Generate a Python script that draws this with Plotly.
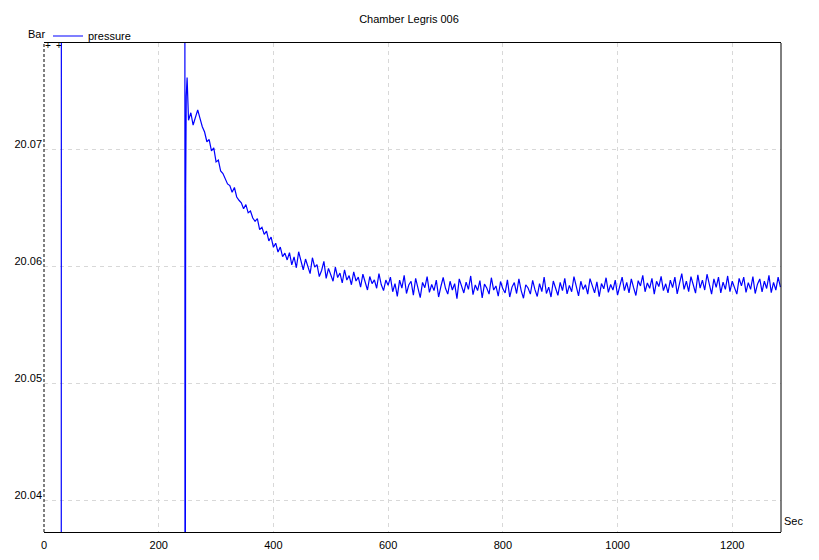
import plotly.graph_objects as go

# ---- data ----
# lead-in: line jumps from below range to above range at t=30, and back at t~246
lead_time = [0, 30, 30.3, 245.6, 245.9, 246.3, 247.0, 248.0, 249.5]
lead_pressure = [20.0, 20.0, 20.1, 20.1, 20.0, 20.0505, 20.0663, 20.0745, 20.0761]

sample_start = 252
sample_step = 4
pressure = [
    # decay 252 .. 420
    20.07245, 20.07310, 20.07205, 20.07268, 20.07335, 20.07262, 20.07190, 20.07145,
    20.07062, 20.07081, 20.06985, 20.07010, 20.06890, 20.06905, 20.06812, 20.06790,
    20.06745, 20.06702, 20.06688, 20.06630, 20.06671, 20.06590, 20.06562, 20.06540,
    20.06490, 20.06525, 20.06455, 20.06470, 20.06410, 20.06382, 20.06405, 20.06312,
    20.06330, 20.06270, 20.06298, 20.06215, 20.06248, 20.06160, 20.06195, 20.06120,
    20.06162, 20.06080, 20.06110,
    # 424 .. 600
    20.06052, 20.06115, 20.06010, 20.06078, 20.05985, 20.06122, 20.06030, 20.05968,
    20.06060, 20.06005, 20.05935, 20.06071, 20.05990, 20.06012, 20.05910, 20.05962,
    20.06040, 20.05895, 20.05980, 20.05925, 20.05870, 20.05990, 20.05902, 20.05940,
    20.05855, 20.05968, 20.05880, 20.05918, 20.05840, 20.05950, 20.05872, 20.05905,
    20.05820, 20.05930, 20.05868, 20.05795, 20.05910, 20.05850, 20.05882, 20.05810,
    20.05935, 20.05842, 20.05790, 20.05880, 20.05835,
    # 604 .. 1284
    20.05905, 20.05780, 20.05850, 20.05740, 20.05880, 20.05812, 20.05920, 20.05765,
    20.05838, 20.05870, 20.05752, 20.05895, 20.05800, 20.05730, 20.05860, 20.05815,
    20.05910, 20.05775, 20.05842, 20.05790, 20.05880, 20.05735, 20.05825, 20.05902,
    20.05810, 20.05760, 20.05870, 20.05795, 20.05850, 20.05722, 20.05890, 20.05818,
    20.05770, 20.05862, 20.05800, 20.05915, 20.05755, 20.05838, 20.05790, 20.05875,
    20.05728, 20.05845, 20.05812, 20.05760, 20.05900, 20.05795, 20.05830, 20.05742,
    20.05868, 20.05805, 20.05770, 20.05882, 20.05735, 20.05820, 20.05858, 20.05765,
    20.05890, 20.05790, 20.05725, 20.05840, 20.05812, 20.05760, 20.05878, 20.05798,
    20.05740, 20.05850, 20.05782, 20.05905, 20.05765, 20.05820, 20.05735, 20.05872,
    20.05808, 20.05750, 20.05860, 20.05790, 20.05895, 20.05762, 20.05835, 20.05780,
    20.05910, 20.05815, 20.05745, 20.05870, 20.05800, 20.05840, 20.05760, 20.05892,
    20.05822, 20.05770, 20.05865, 20.05738, 20.05850, 20.05805, 20.05900, 20.05775,
    20.05842, 20.05795, 20.05880, 20.05752, 20.05830, 20.05905, 20.05790, 20.05860,
    20.05770, 20.05890, 20.05815, 20.05748, 20.05875, 20.05830, 20.05920, 20.05780,
    20.05855, 20.05810, 20.05895, 20.05760, 20.05870, 20.05825, 20.05912, 20.05790,
    20.05848, 20.05770, 20.05880, 20.05815, 20.05905, 20.05762, 20.05850, 20.05935,
    20.05800, 20.05870, 20.05782, 20.05910, 20.05840, 20.05768, 20.05925, 20.05812,
    20.05880, 20.05795, 20.05930, 20.05835, 20.05760, 20.05890, 20.05818, 20.05905,
    20.05770, 20.05862, 20.05800, 20.05915, 20.05782, 20.05870, 20.05820, 20.05760,
    20.05895, 20.05830, 20.05905, 20.05775, 20.05858, 20.05800, 20.05910, 20.05765,
    20.05845, 20.05890, 20.05780, 20.05870, 20.05808, 20.05920, 20.05772, 20.05860,
    20.05795, 20.05905, 20.05820,
]
sample_time = [sample_start + sample_step * i for i in range(len(pressure))]

x_ticks = [0, 200, 400, 600, 800, 1000, 1200]
y_ticks = [20.04, 20.05, 20.06, 20.07]
x_range = [0, 1285]
y_range = [20.03727, 20.07906]

title_text = "Chamber Legris 006"
series_name = "pressure"
y_unit = "Bar"
x_unit = "Sec"

# ---- figure ----
# The page body has an 8px margin, so the figure is 8px smaller and all
# positions are measured from (8, 8) of the window.
W, H = 811, 552
FONT = "Liberation Sans"
fig = go.Figure()
fig.add_trace(go.Scatter(
    x=lead_time + sample_time,
    y=lead_pressure + pressure,
    mode="lines",
    name=series_name,
    line=dict(color="#0000FF", width=1.2),
    showlegend=True,
))

grid = dict(showgrid=True, gridcolor="#d8d8d8", gridwidth=1, griddash="4px,4px",
            zeroline=False, tickfont=dict(family=FONT, size=11, color="black"))

fig.update_layout(
    width=W, height=H,
    margin=dict(l=36, r=38, t=35, b=28, autoexpand=False),
    paper_bgcolor="white", plot_bgcolor="white",
    font=dict(family=FONT, size=11, color="black"),
    title=dict(text=title_text, x=401 / W, xref="container", xanchor="center",
               y=1 - 11 / H, yref="container", yanchor="middle",
               font=dict(family=FONT, size=11, color="black")),
    xaxis=dict(range=x_range, tickvals=x_ticks, ticktext=[str(v) for v in x_ticks],
               showline=True, linecolor="black", linewidth=1, mirror=True,
               ticks="", ticklabelstandoff=3, automargin=False, **grid),
    yaxis=dict(range=y_range, tickvals=y_ticks, ticktext=[f"{v:.2f}" for v in y_ticks],
               showline=False, ticks="", ticklabelshift=-5, ticklabelstandoff=1,
               automargin=False, **grid),
    legend=dict(orientation="h", x=40 / W, xref="container", xanchor="left",
                y=1 - 28 / H, yref="container", yanchor="middle",
                font=dict(family=FONT, size=11, color="black"),
                bgcolor="rgba(0,0,0,0)", borderwidth=0, itemwidth=30),
    showlegend=True,
    shapes=[
        dict(type="line", xref="paper", yref="paper", x0=0, x1=0, y0=0, y1=1,
             line=dict(color="black", width=1, dash="3px,2px")),
        dict(type="line", xref="paper", yref="paper", x0=1, x1=1, y0=0, y1=1,
             line=dict(color="black", width=1)),
    ],
    annotations=[
        dict(text=y_unit, xref="paper", yref="paper", x=0, y=1, xanchor="right",
             yanchor="bottom", xshift=3, yshift=1, showarrow=False,
             font=dict(family=FONT, size=11, color="black")),
        dict(text=x_unit, xref="paper", yref="paper", x=1, y=0, xanchor="left",
             yanchor="bottom", xshift=1, yshift=3, showarrow=False,
             font=dict(family=FONT, size=11, color="black")),
        dict(text="+", xref="paper", yref="paper", x=0, y=1, xanchor="left",
             yanchor="top", xshift=-1, yshift=5, showarrow=False,
             font=dict(family=FONT, size=10, color="black")),
        dict(text="+", xref="paper", yref="paper", x=0, y=1, xanchor="left",
             yanchor="top", xshift=10, yshift=5, showarrow=False,
             font=dict(family=FONT, size=10, color="black")),
    ],
)

fig.write_html("out.html")
